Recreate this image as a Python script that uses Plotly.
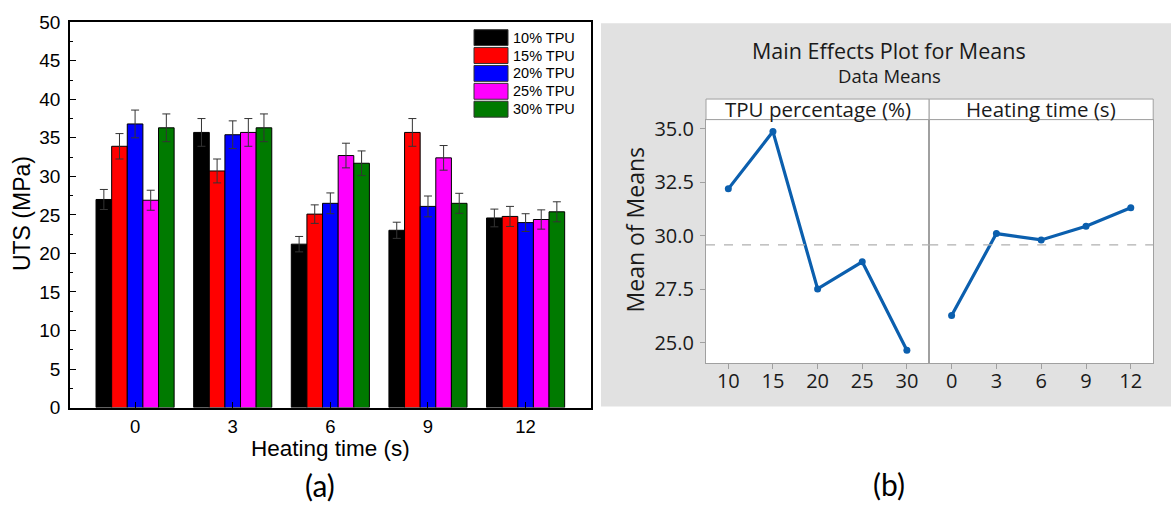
import plotly.graph_objects as go

# ---------------- data: (a) UTS bar chart ----------------
heating_times = [0, 3, 6, 9, 12]
series_names = ["10% TPU", "15% TPU", "20% TPU", "25% TPU", "30% TPU"]
series_colors = ["#000000", "#ff0000", "#0000ff", "#ff00ff", "#007a00"]

uts_10 = [27.0, 35.7, 21.2, 23.0, 24.6]
uts_15 = [33.9, 30.7, 25.1, 35.7, 24.8]
uts_20 = [36.8, 35.4, 26.5, 26.1, 24.0]
uts_25 = [26.9, 35.7, 32.7, 32.4, 24.4]
uts_30 = [36.3, 36.3, 31.7, 26.5, 25.4]

err_10 = [1.3, 1.8, 1.0, 1.05, 1.15]
err_15 = [1.65, 1.55, 1.2, 1.8, 1.3]
err_20 = [1.8, 1.8, 1.35, 1.35, 1.15]
err_25 = [1.3, 1.8, 1.6, 1.6, 1.25]
err_30 = [1.8, 1.8, 1.6, 1.3, 1.3]

uts_values = [uts_10, uts_15, uts_20, uts_25, uts_30]
uts_errors = [err_10, err_15, err_20, err_25, err_30]

y_ticks_a = [0, 5, 10, 15, 20, 25, 30, 35, 40, 45, 50]

# ---------------- data: (b) main effects plot ----------------
tpu_levels = ["10", "15", "20", "25", "30"]
tpu_means = [32.19, 34.87, 27.51, 28.78, 24.64]
time_levels = ["0", "3", "6", "9", "12"]
time_means = [26.27, 30.10, 29.80, 30.44, 31.31]
grand_mean = 29.57
y_ticks_b = [25.0, 27.5, 30.0, 32.5, 35.0]

W, H = 1171, 507
# vertical placement of the page inside the window
Y_OFF, Y_SCALE = 7.7, 0.9645


def px(x):
    return x / W


def py(y):
    return 1 - ((y - Y_OFF) / Y_SCALE) / H


fig = go.Figure()

# bars with error bars
for name, color, vals, errs in zip(series_names, series_colors, uts_values, uts_errors):
    fig.add_trace(go.Bar(
        x=heating_times, y=vals, name=name,
        marker=dict(color=color, line=dict(color="#000000", width=1)),
        error_y=dict(type="data", array=errs, visible=True,
                     color="#333333", thickness=1, width=4),
        xaxis="x", yaxis="y", showlegend=False,
    ))

# main effects lines
line_blue = "#0b5fae"
fig.add_trace(go.Scatter(
    x=tpu_levels, y=tpu_means, mode="lines+markers",
    line=dict(color=line_blue, width=3.2), marker=dict(color=line_blue, size=7),
    xaxis="x2", yaxis="y2", showlegend=False,
))
fig.add_trace(go.Scatter(
    x=time_levels, y=time_means, mode="lines+markers",
    line=dict(color=line_blue, width=3.2), marker=dict(color=line_blue, size=7),
    xaxis="x3", yaxis="y3", showlegend=False,
))

arial = "Liberation Sans, Arial, sans-serif"
segoe = "Open Sans, Noto Sans, sans-serif"
gray_line = "#a0a0a0"
txt_dark = "#1a1a1a"

# y-range of the main effects panels
yb_range = [24.047, 35.43]

fig.update_layout(
    width=W, height=H,
    margin=dict(l=0, r=0, t=0, b=0),
    paper_bgcolor="white", plot_bgcolor="white",
    barmode="group", bargap=0.2, bargroupgap=0,
    showlegend=False,
    xaxis=dict(
        domain=[px(70), px(590.7)], range=[-2, 14],
        tickvals=heating_times, ticks="inside", ticklen=6, tickwidth=1.2,
        tickcolor="#000", showline=True, linecolor="#000", linewidth=1.5,
        mirror=True, showgrid=False, zeroline=False,
        tickfont=dict(family=arial, size=18.5, color="#000"),
        ticklabelstandoff=2,
    ),
    yaxis=dict(
        domain=[py(407.7), py(20)], range=[0, 50],
        tickvals=y_ticks_a, ticks="inside", ticklen=6, tickwidth=1.2,
        tickcolor="#000", showline=True, linecolor="#000", linewidth=1.5,
        mirror=True, showgrid=False, zeroline=False,
        minor=dict(dtick=2.5, ticks="inside", ticklen=3, tickcolor="#000", showgrid=False),
        tickfont=dict(family=arial, size=19, color="#000"),
        ticklabelstandoff=4,
    ),
    xaxis2=dict(
        domain=[px(706), px(929.2)], type="category", range=[-0.5, 4.5],
        categoryorder="array", categoryarray=tpu_levels,
        ticks="outside", ticklen=5, tickcolor=gray_line,
        showline=True, linecolor=gray_line, linewidth=1, mirror=True,
        showgrid=False, zeroline=False, anchor="y2",
        tickfont=dict(family=segoe, size=20, color=txt_dark),
        ticklabelstandoff=-5,
    ),
    yaxis2=dict(
        domain=[py(362.8), py(118)], range=yb_range,
        tickvals=y_ticks_b, ticktext=[f"{v:.1f}" for v in y_ticks_b],
        ticks="outside", ticklen=5, tickcolor=gray_line,
        showline=True, linecolor=gray_line, linewidth=1, mirror=True,
        showgrid=False, zeroline=False, anchor="x2",
        tickfont=dict(family=segoe, size=20, color=txt_dark),
        ticklabelstandoff=2,
    ),
    xaxis3=dict(
        domain=[px(929.2), px(1153.2)], type="category", range=[-0.5, 4.5],
        categoryorder="array", categoryarray=time_levels,
        ticks="outside", ticklen=5, tickcolor=gray_line,
        showline=True, linecolor=gray_line, linewidth=1, mirror=True,
        showgrid=False, zeroline=False, anchor="y3",
        tickfont=dict(family=segoe, size=20, color=txt_dark),
        ticklabelstandoff=-5,
    ),
    yaxis3=dict(
        domain=[py(362.8), py(118)], range=yb_range, matches="y2",
        showticklabels=False, ticks="",
        showline=True, linecolor=gray_line, linewidth=1, mirror=True,
        showgrid=False, zeroline=False, anchor="x3",
    ),
)

shapes = [
    # grey frame behind the main effects plot
    dict(type="rect", xref="paper", yref="paper", layer="below",
         x0=px(601), x1=1.0, y0=py(406.7), y1=py(21),
         fillcolor="#e1e1e1", line=dict(width=0)),
    dict(type="rect", xref="paper", yref="paper", layer="below",
         x0=px(706), x1=px(1153.2), y0=py(362.8), y1=py(118),
         fillcolor="white", line=dict(width=0)),
    # panel header strips
    dict(type="rect", xref="paper", yref="paper",
         x0=px(706), x1=px(929.2), y0=py(118), y1=py(97.3),
         fillcolor="white", line=dict(color=gray_line, width=1)),
    dict(type="rect", xref="paper", yref="paper",
         x0=px(929.2), x1=px(1153.2), y0=py(118), y1=py(97.3),
         fillcolor="white", line=dict(color=gray_line, width=1)),
]
# grand mean reference line
for xr in ["x2 domain", "x3 domain"]:
    shapes.append(dict(type="line", xref=xr, yref="y2", x0=0, x1=1,
                       y0=grand_mean, y1=grand_mean,
                       line=dict(color="#b0b0b0", width=1.2, dash="dash")))

# legend swatches inside the bar chart
leg_top = 26.5
leg_pitch = 18.0
annotations = []
for i, (name, color) in enumerate(zip(series_names, series_colors)):
    y0 = leg_top + i * leg_pitch
    shapes.append(dict(type="rect", xref="paper", yref="paper",
                       x0=px(474), x1=px(508), y0=py(y0 + 17), y1=py(y0 + 1),
                       fillcolor=color, line=dict(color="#333333", width=1)))
    annotations.append(dict(xref="paper", yref="paper", x=px(510.5), y=py(y0 + 9),
                            xanchor="left", yanchor="middle", showarrow=False,
                            text=name, font=dict(family=arial, size=14.5, color="#000")))

annotations += [
    dict(xref="paper", yref="paper", x=px(22), y=py(213), text="UTS (MPa)",
         textangle=-90, showarrow=False, xanchor="center", yanchor="middle",
         font=dict(family=arial, size=23, color="#000")),
    dict(xref="paper", yref="paper", x=px(330), y=py(449), text="Heating time (s)",
         showarrow=False, xanchor="center", yanchor="middle",
         font=dict(family=arial, size=22.5, color="#000")),
    dict(xref="paper", yref="paper", x=px(320), y=py(486), text="(a)",
         showarrow=False, xanchor="center", yanchor="middle",
         font=dict(family="Lato, sans-serif", size=30, color="#000")),
    dict(xref="paper", yref="paper", x=px(889), y=py(485), text="(b)",
         showarrow=False, xanchor="center", yanchor="middle",
         font=dict(family="Lato, sans-serif", size=30, color="#000")),
    dict(xref="paper", yref="paper", x=px(889), y=py(48),
         text="Main Effects Plot for Means", borderpad=0,
         showarrow=False, xanchor="center", yanchor="middle",
         font=dict(family=segoe, size=21.5, color=txt_dark)),
    dict(xref="paper", yref="paper", x=px(889), y=py(74), text="Data Means",
         borderpad=0,
         showarrow=False, xanchor="center", yanchor="middle",
         font=dict(family=segoe, size=18.5, color=txt_dark)),
    dict(xref="paper", yref="paper", x=px(634.5), y=py(229), text="Mean of Means",
         textangle=-90, showarrow=False, xanchor="center", yanchor="middle",
         font=dict(family=segoe, size=23, color=txt_dark)),
    dict(xref="paper", yref="paper", x=px(817.6), y=py(107.8),
         text="TPU percentage (%)",
         showarrow=False, xanchor="center", yanchor="middle",
         font=dict(family=segoe, size=20.5, color=txt_dark)),
    dict(xref="paper", yref="paper", x=px(1041.2), y=py(107.8),
         text="Heating time (s)",
         showarrow=False, xanchor="center", yanchor="middle",
         font=dict(family=segoe, size=20.5, color=txt_dark)),
]

fig.update_layout(shapes=shapes, annotations=annotations)

fig.write_html("out.html")
